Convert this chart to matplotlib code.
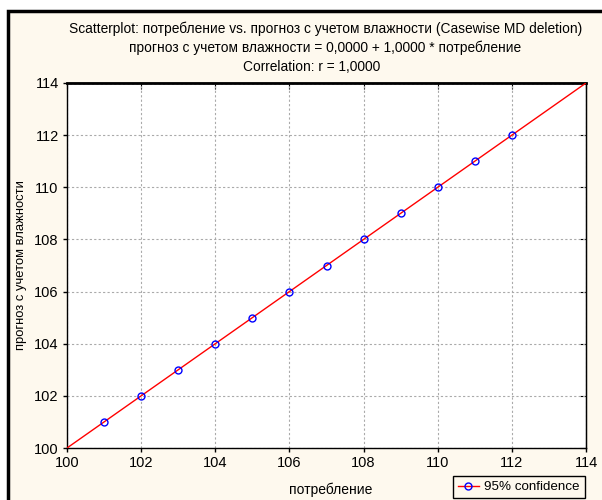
import matplotlib
matplotlib.use("Agg")
import matplotlib.pyplot as plt
from matplotlib.patches import Rectangle
from matplotlib.lines import Line2D

plt.rcParams['font.family'] = ['Liberation Sans', 'DejaVu Sans']

x_vals = [101, 102, 103, 104, 105, 106, 107, 108, 109, 110, 111, 112]
y_vals = [101, 102, 103, 104, 105, 106, 107, 108, 109, 110, 111, 112]
intercept = 0.0
slope = 1.0
x_range = [100, 114]
ticks = [100, 102, 104, 106, 108, 110, 112, 114]

title1 = "Scatterplot: потребление vs. прогноз с учетом влажности (Casewise MD deletion)"
title2 = "прогноз с учетом влажности = 0,0000 + 1,0000 * потребление"
title3 = "Correlation: r = 1,0000"
xlabel = "потребление"
ylabel = "прогноз с учетом влажности"
legend_label = "95% confidence"

W, H = 602, 500
fig = plt.figure(figsize=(W / 100, H / 100), dpi=100, facecolor='white')
bg = '#FEF9EE'
fig.patches.append(Rectangle((8 / W, -0.1), 1.2, (H - 11) / H + 0.1, transform=fig.transFigure,
                             facecolor=bg, edgecolor='black', linewidth=2.5, zorder=-10))

L, R, T, B = 67, 586, 83, 448
ax = fig.add_axes([L / W, 1 - B / H, (R - L) / W, (B - T) / H])
ax.set_facecolor('white')

ax.grid(True, color='#aaaaaa', linestyle=(0, (2, 2)), linewidth=0.8)
ax.set_axisbelow(True)

lx = [x_range[0], x_range[1]]
ly = [intercept + slope * v for v in lx]
ax.plot(lx, ly, color='red', linewidth=1.0, zorder=3)
ax.plot(x_vals, y_vals, linestyle='none', marker='o', markersize=5,
        markerfacecolor='none', markeredgecolor='blue', markeredgewidth=1.0, zorder=4)

ax.set_xlim(*x_range)
ax.set_ylim(*x_range)
ax.set_xticks(ticks)
ax.set_yticks(ticks)
ax.tick_params(axis='both', labelsize=10.5, color='black', length=3, width=1, direction='out')
ax.tick_params(axis='x', pad=3)
ax.tick_params(axis='y', pad=3)
ax2 = ax.secondary_xaxis('top')
ax2.set_xticks(ticks)
ax2.tick_params(direction='in', length=4, labeltop=False)
ax3 = ax.secondary_yaxis('right')
ax3.set_yticks(ticks)
ax3.tick_params(direction='in', length=4, labelright=False)
for s in ax.spines.values():
    s.set_linewidth(1.0)
ax2.spines['top'].set_linewidth(2.0)

fig.text(326 / W, 1 - 29 / H, title1, ha='center', va='center', fontsize=9.9)
fig.text(325 / W, 1 - 48 / H, title2, ha='center', va='center', fontsize=9.9)
fig.text(312 / W, 1 - 67 / H, title3, ha='center', va='center', fontsize=9.9)
fig.text(331 / W, 1 - 490 / H, xlabel, ha='center', va='center', fontsize=10)
fig.text(21 / W, 1 - 265 / H, ylabel, ha='center', va='center', fontsize=9.4, rotation=90)

handle = Line2D([0], [0], color='red', linewidth=1, marker='o', markersize=5,
                markerfacecolor='none', markeredgecolor='blue')
leg = fig.legend([handle], [legend_label], loc='lower left',
                 bbox_to_anchor=(453 / W, 0.004), borderaxespad=0, fontsize=9.6, frameon=True,
                 fancybox=False, edgecolor='black', facecolor=bg, framealpha=1,
                 handlelength=1.6, borderpad=0.35, handletextpad=0.4)
leg.get_frame().set_linewidth(1.0)

fig.savefig('out.png', dpi=100, facecolor=fig.get_facecolor())
